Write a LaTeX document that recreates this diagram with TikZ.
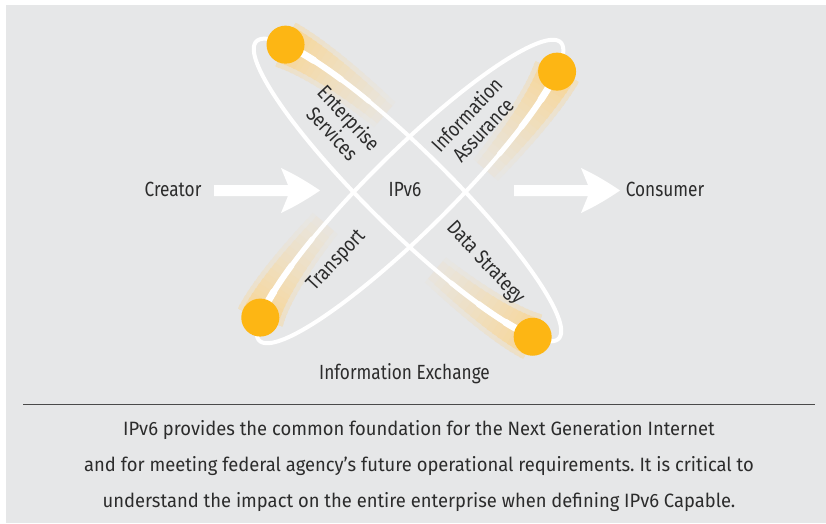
\documentclass[tikz,border=0pt]{standalone}
\usepackage{fontspec}
\setmainfont{Fira Sans}[FakeStretch=0.84]
\newfontfamily\bodyfont{Fira Sans}[FakeStretch=0.953]
\frenchspacing
\definecolor{bg}{HTML}{E6E7E8}
\definecolor{ball}{HTML}{FDB614}
\definecolor{glow}{HTML}{F8D697}
\definecolor{ink}{HTML}{2C2C2C}
\definecolor{rulec}{HTML}{4A4A4A}
\def\ra{212}
\def\rb{40}
% #1 start angle, #2 extra width, #3 intensity (0..1)
\newcommand\glowpass[3]{%
  \foreach \k in {1,...,18}{%
    \pgfmathsetmacro\te{#1+44*(19-\k)/18}%
    \pgfmathtruncatemacro\pc{#3*(10+90*\k/18)}%
    \pgfmathsetmacro\wd{#2+22+16*\k/18}%
    \draw[glow!\pc!bg, line width=\wd pt] plot[domain=#1:\te, samples=20] ({\ra*cos(\x)},{\rb*sin(\x)});
  }}
\newcommand\orbglow[1]{\glowpass{#1}{10}{0.45}\glowpass{#1}{0}{1}}
\newcommand\orbtrail[1]{%
  \draw[white, line width=5pt, line cap=round] plot[domain=#1:#1+38, samples=20] ({\ra*cos(\x)},{\rb*sin(\x)});
  \draw[white, line width=6pt, line cap=round] plot[domain=#1:#1+27, samples=15] ({\ra*cos(\x)},{\rb*sin(\x)});
  \draw[white, line width=7pt, line cap=round] plot[domain=#1:#1+15, samples=10] ({\ra*cos(\x)},{\rb*sin(\x)});
}
\begin{document}
\begin{tikzpicture}[x=1pt,y=-1pt,
  lbl/.style={text=ink, font=\fontsize{20.5}{22.5}\selectfont, inner sep=0pt, align=center},
  body/.style={text=ink, font=\bodyfont\fontsize{19.3}{22}\selectfont, inner sep=0pt, anchor=base},
  orbitline/.style={white, line width=4pt, line join=round},
  ballnode/.style={circle, fill=ball, minimum size=38pt, inner sep=0pt},
  bigarrow/.style={fill=white}]
\useasboundingbox (0,0) rectangle (826,523);
\fill[white] (0,0) rectangle (826,523);
\fill[bg] (6,5) rectangle (826,523);

% orbit A (top-left to bottom-right)
\begin{scope}[shift={(407.5,190)}, x={(0.713pt,-0.701pt)}, y={(-0.701pt,-0.713pt)}]
  \orbglow{207}
  \orbglow{25}
  \draw[orbitline] plot[domain=0:360, samples=145] ({\ra*cos(\x)},{\rb*sin(\x)}) -- cycle;
  \orbtrail{207}
  \orbtrail{25}
  \node[ballnode] (ballA1) at ({\ra*cos(207)},{\rb*sin(207)}) {};
  \node[ballnode] (ballA2) at ({\ra*cos(25)},{\rb*sin(25)}) {};
\end{scope}

% orbit B (bottom-left to top-right)
\begin{scope}[shift={(410,191.5)}, x={(0.711pt,0.703pt)}, y={(0.703pt,-0.711pt)}]
  \orbglow{27}
  \orbglow{203}
  \draw[orbitline] plot[domain=0:360, samples=145] ({\ra*cos(\x)},{\rb*sin(\x)}) -- cycle;
  \orbtrail{27}
  \orbtrail{203}
  \node[ballnode] (ballB1) at ({\ra*cos(27)},{\rb*sin(27)}) {};
  \node[ballnode] (ballB2) at ({\ra*cos(203)},{\rb*sin(203)}) {};
\end{scope}

% arrows
\fill[bigarrow] (214,185) -- (288,185) -- (281,168) .. controls (296,175) and (309,183) .. (320,190.5)
  .. controls (309,198) and (296,206) .. (281,213) -- (288,196) -- (214,196) -- cycle;
\begin{scope}[xshift=300pt]
\fill[bigarrow] (214,185) -- (288,185) -- (281,168) .. controls (296,175) and (309,183) .. (320,190.5)
  .. controls (309,198) and (296,206) .. (281,213) -- (288,196) -- (214,196) -- cycle;
\end{scope}

% labels
\node[lbl, anchor=base] (creator) at (173,196.3) {Creator};
\node[lbl, anchor=base] (ipv6) at (405,196.3) {IPv6};
\node[lbl, anchor=base] (consumer) at (665,196.3) {Consumer};
\node[lbl, rotate=-47] (ent) at (341,125.5) {Enterprise\\Services};
\node[lbl, rotate=47] (ia) at (474.5,122) {Information\\Assurance};
\node[lbl, rotate=47] (tr) at (336.7,260.8) {Transport};
\node[lbl, rotate=-47] (ds) at (485,263.3) {Data Strategy};
\node[lbl, anchor=base] (ie) at (404.5,379.5) {Information Exchange};

\draw[rulec, line width=1.2pt] (23,404.5) -- (815,404.5);

\node[body] (l1) at (419,435) {IPv6 provides the common foundation for the Next Generation Internet};
\node[body] (l2) at (419,471.5) {and for meeting federal agency’s future operational requirements. It is critical to};
\node[body] (l3) at (419,507.5) {understand the impact on the entire enterprise when defining IPv6 Capable.};
\end{tikzpicture}
\end{document}
